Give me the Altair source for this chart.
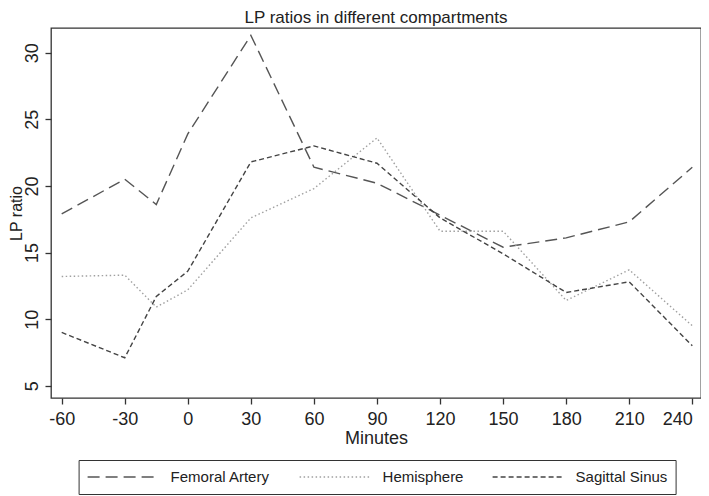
import altair as alt
import pandas as pd

# ---- data ----
minutes = [-60, -30, -15, 0, 30, 60, 90, 120, 150, 180, 210, 240]
femoral = [17.9, 20.5, 18.6, 23.9, 31.3, 21.4, 20.2, 17.8, 15.4, 16.1, 17.3, 21.4]
hemisphere = [13.2, 13.3, 10.9, 12.2, 17.6, 19.8, 23.6, 16.6, 16.6, 11.4, 13.7, 9.5]
sagittal = [9.0, 7.1, 11.7, 13.6, 21.8, 23.0, 21.7, 17.6, 14.9, 12.0, 12.8, 8.0]
series_names = ["Femoral Artery", "Hemisphere", "Sagittal Sinus"]
x_ticks = [-60, -30, 0, 30, 60, 90, 120, 150, 180, 210, 240]
y_ticks = [5, 10, 15, 20, 25, 30]

rows = []
for name, vals in zip(series_names, [femoral, hemisphere, sagittal]):
    for m, v in zip(minutes, vals):
        rows.append({"Minutes": m, "LP ratio": v, "Series": name})
df = pd.DataFrame(rows)

FONT = "Liberation Sans"
W, H = 650, 370

legend = alt.Legend(
    orient="none", legendX=27.6, legendY=432, direction="horizontal", columns=3,
    title=None, symbolType="stroke", symbolSize=4900, symbolStrokeWidth=1.4,
    clipHeight=18, labelFontSize=15, labelFont=FONT, labelColor="#222222",
    labelOffset=12, columnPadding=28, padding=8, strokeColor="#333333",
    fillColor="white", labelLimit=300,
)

chart = alt.Chart(df).mark_line(strokeWidth=1.4).encode(
    x=alt.X("Minutes:Q",
            scale=alt.Scale(domain=[-65.09, 244.14], nice=False, zero=False),
            axis=alt.Axis(values=x_ticks, title="Minutes", labelPadding=6,
                          labelFlush=10, titlePadding=1,
                          labelExpr="'' + datum.value")),
    y=alt.Y("LP ratio:Q",
            scale=alt.Scale(domain=[4.08, 31.85], nice=False, zero=False),
            axis=alt.Axis(values=y_ticks, title="LP ratio", labelAngle=270,
                          labelAlign="center", labelBaseline="alphabetic",
                          labelPadding=8, titleFontSize=16,
                          titleX=-30, titleY=H / 2, titleAngle=270,
                          titleAlign="center", titleBaseline="alphabetic")),
    color=alt.Color("Series:N",
                    scale=alt.Scale(domain=series_names,
                                    range=["#555555", "#a0a0a0", "#444444"]),
                    legend=legend),
    strokeDash=alt.StrokeDash("Series:N",
                              scale=alt.Scale(domain=series_names,
                                              range=[[12, 6], [1.5, 2.5], [5, 3]]),
                              legend=legend),
).properties(
    width=W, height=H,
    title=alt.TitleParams("LP ratios in different compartments", fontSize=17,
                          font=FONT, fontWeight="normal", color="#222222",
                          anchor="middle", offset=1),
    autosize=alt.AutoSizeParams(type="none"),
    padding={"left": 43, "top": 20, "right": 0, "bottom": 97},
).configure_view(
    stroke="#333333", strokeWidth=1.3,
).configure_axis(
    domain=False, grid=False, tickColor="#333333", tickSize=6, tickWidth=1.3,
    labelFont=FONT, labelFontSize=18, labelColor="#222222",
    titleFont=FONT, titleFontSize=18, titleFontWeight="normal", titleColor="#222222",
)

chart.save("out.html", embed_options={"renderer": "svg", "actions": False})
